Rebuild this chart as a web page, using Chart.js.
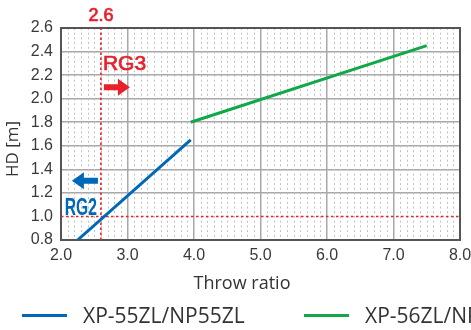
<!DOCTYPE html>
<html><head><meta charset="utf-8">
<script src="https://cdn.jsdelivr.net/npm/chart.js@4/dist/chart.umd.min.js"></script>
<style>html,body{margin:0;padding:0;background:#fff;overflow:hidden}#wrap{width:471px;height:330px;position:relative}</style>
</head><body><div id="wrap"><canvas id="c"></canvas></div>
<script>
// ---- data ----
const seriesNames = ['XP-55ZL/NP55ZL', 'XP-56ZL/NP56ZL'];
const seriesColors = ['#0068b7', '#10a84a'];
const series55X = [2.25, 3.95];
const series55Y = [0.8, 1.65];
const series56X = [3.95, 7.5];
const series56Y = [1.8, 2.45];
const refThrowRatio = [2.6];
const refHD = [1.0];
const xTicks = [2.0, 3.0, 4.0, 5.0, 6.0, 7.0, 8.0];
const yTicks = [0.8, 1.0, 1.2, 1.4, 1.6, 1.8, 2.0, 2.2, 2.4, 2.6];
const xMinorStep = 0.1;
const zoneLabels = ['RG3', 'RG2'];
const axisTitles = ['Throw ratio', 'HD [m]'];

const RED = '#e8202a';
const xMin = xTicks[0], xMax = xTicks[xTicks.length - 1];
const yMin = yTicks[0], yMax = yTicks[yTicks.length - 1];

const toPts = (xs, ys) => xs.map((x, i) => ({x, y: ys[i]}));

const datasets = [
  {label: seriesNames[0], data: toPts(series55X, series55Y), borderColor: seriesColors[0], borderWidth: 3, showLine: true, pointRadius: 0, order: 1},
  {label: seriesNames[1], data: toPts(series56X, series56Y), borderColor: seriesColors[1], borderWidth: 3, showLine: true, pointRadius: 0, order: 1},
  {label: 'refX', data: [{x: refThrowRatio[0], y: yMin}, {x: refThrowRatio[0], y: yMax}], borderColor: RED, borderWidth: 1.6, borderDash: [2.5, 2.5], showLine: true, pointRadius: 0, order: 2},
  {label: 'refY', data: [{x: xMin, y: refHD[0]}, {x: xMax, y: refHD[0]}], borderColor: RED, borderWidth: 1.6, borderDash: [2.5, 2.5], showLine: true, pointRadius: 0, order: 2}
];

function arrow(ctx, x0, x1, y, color) {
  const dir = Math.sign(x1 - x0);
  const headLen = 12, headH = 8.5, shaftH = 3;
  const hx = x1 - dir * headLen;
  ctx.save();
  ctx.fillStyle = color;
  ctx.beginPath();
  ctx.moveTo(x0, y - shaftH);
  ctx.lineTo(hx, y - shaftH);
  ctx.lineTo(hx, y - headH);
  ctx.lineTo(x1, y);
  ctx.lineTo(hx, y + headH);
  ctx.lineTo(hx, y + shaftH);
  ctx.lineTo(x0, y + shaftH);
  ctx.closePath();
  ctx.fill();
  ctx.restore();
}

function heavyText(ctx, t, x, y, w) {
  ctx.lineWidth = w;
  ctx.strokeStyle = ctx.fillStyle;
  ctx.fillText(t, x, y);
  ctx.strokeText(t, x, y);
}

const deco = {
  id: 'deco',
  beforeDatasetsDraw(chart) {
    const {ctx, chartArea: a, scales: {x}} = chart;
    ctx.save();
    ctx.strokeStyle = '#c0c0c0';
    ctx.lineWidth = 1;
    ctx.setLineDash([2, 2.7]);
    const n = Math.round((xMax - xMin) / xMinorStep);
    for (let i = 1; i < n; i++) {
      if (i % 10 === 0) continue;
      const px = Math.round(x.getPixelForValue(xMin + i * xMinorStep)) + 0.5;
      ctx.beginPath();
      ctx.moveTo(px, a.top);
      ctx.lineTo(px, a.bottom);
      ctx.stroke();
    }
    ctx.setLineDash([]);
    ctx.strokeStyle = '#555';
    ctx.lineWidth = 2;
    ctx.strokeRect(a.left, a.top, a.right - a.left, a.bottom - a.top);
    ctx.restore();
  },
  afterDatasetsDraw(chart) {
    const {ctx, scales: {x, y}} = chart;
    const xr = x.getPixelForValue(refThrowRatio[0]);
    ctx.save();
    ctx.fillStyle = RED;
    ctx.font = '18px "Liberation Sans", Arial, sans-serif';
    ctx.textAlign = 'center';
    ctx.textBaseline = 'middle';
    heavyText(ctx, refThrowRatio[0].toFixed(1), xr, 16, 0.7);
    ctx.font = '21px "Liberation Sans", Arial, sans-serif';
    ctx.textAlign = 'left';
    heavyText(ctx, zoneLabels[0], xr + 2, y.getPixelForValue(2.29), 0.7);
    arrow(ctx, xr + 3, xr + 29, y.getPixelForValue(2.097), RED);
    arrow(ctx, xr - 3, xr - 29, y.getPixelForValue(1.303), seriesColors[0]);
    ctx.fillStyle = seriesColors[0];
    ctx.font = 'bold 23px "Liberation Sans", Arial, sans-serif';
    ctx.textAlign = 'right';
    ctx.save();
    ctx.translate(xr - 4, y.getPixelForValue(1.07));
    ctx.scale(0.68, 1);
    ctx.fillText(zoneLabels[1], 0, 0);
    ctx.restore();
    ctx.fillStyle = '#333';
    ctx.font = '18px "Open Sans", sans-serif';
    ctx.textAlign = 'center';
    ctx.fillText(axisTitles[0], 242, 284);
    ctx.save();
    ctx.translate(13, 149);
    ctx.rotate(-Math.PI / 2);
    ctx.font = '17px "Open Sans", sans-serif';
    ctx.fillText(axisTitles[1], 0, 0);
    ctx.restore();
    const lx = [22, 304];
    ctx.font = '21px "Open Sans", sans-serif';
    ctx.textAlign = 'left';
    seriesNames.forEach((name, i) => {
      ctx.strokeStyle = seriesColors[i];
      ctx.lineWidth = 3;
      ctx.beginPath();
      ctx.moveTo(lx[i], 315.5);
      ctx.lineTo(lx[i] + 45, 315.5);
      ctx.stroke();
      ctx.fillStyle = '#333';
      ctx.fillText(name, lx[i] + 61, 317);
    });
    ctx.restore();
  }
};

new Chart(document.getElementById('c'), {
  type: 'scatter',
  data: {datasets},
  options: {
    responsive: true,
    maintainAspectRatio: false,
    animation: false,
    layout: {padding: {top: 28, right: 11, bottom: 0, left: 0}},
    plugins: {legend: {display: false}, tooltip: {enabled: false}},
    scales: {
      x: {
        type: 'linear', min: xMin, max: xMax,
        afterBuildTicks: s => { s.ticks = xTicks.map(v => ({value: v})); },
        afterFit: s => { s.height = 90; s.paddingLeft = 0; s.paddingRight = 0; },
        grid: {color: '#a8a8a8', lineWidth: 1.5, drawTicks: false},
        border: {display: false},
        ticks: {padding: 6, color: '#3a3a3a', font: {family: '"Liberation Sans", Arial, sans-serif', size: 16}, callback: v => v.toFixed(1), maxRotation: 0, autoSkip: false}
      },
      y: {
        type: 'linear', min: yMin, max: yMax,
        afterBuildTicks: s => { s.ticks = yTicks.map(v => ({value: v})); },
        afterFit: s => { s.width = 61; s.paddingTop = 0; s.paddingBottom = 0; },
        grid: {color: ctx => (ctx.tick && Math.abs(ctx.tick.value - refHD[0]) < 1e-9) ? 'rgba(0,0,0,0)' : '#a8a8a8', lineWidth: 1.5, drawTicks: false},
        border: {display: false},
        ticks: {padding: 8, color: '#3a3a3a', font: {family: '"Liberation Sans", Arial, sans-serif', size: 16}, callback: v => v.toFixed(1), autoSkip: false}
      }
    }
  },
  plugins: [deco]
});
</script>
</body></html>
